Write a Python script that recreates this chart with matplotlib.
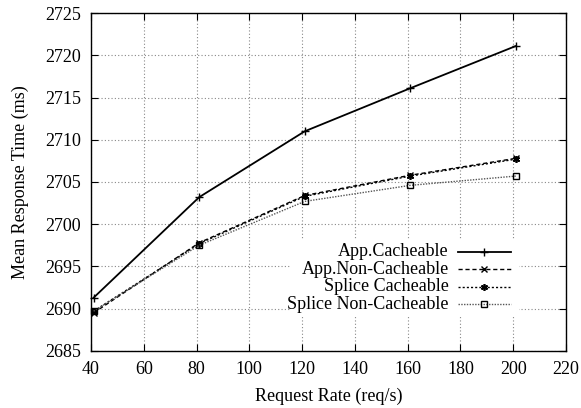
import matplotlib.pyplot as plt
from matplotlib.lines import Line2D
from matplotlib.patches import Rectangle

plt.rcParams['font.family'] = ['Liberation Serif', 'DejaVu Serif']

rate = [41, 81, 121, 161, 201]
app_cache = [2691.3, 2703.2, 2711.0, 2716.1, 2721.1]
app_noncache = [2689.5, 2697.8, 2703.4, 2705.8, 2707.8]
splice_cache = [2689.7, 2697.7, 2703.3, 2705.7, 2707.7]
splice_noncache = [2689.7, 2697.5, 2702.7, 2704.6, 2705.7]

labels = ['App.Cacheable', 'App.Non-Cacheable', 'Splice Cacheable', 'Splice Non-Cacheable']
series = [app_cache, app_noncache, splice_cache, splice_noncache]
styles = [
    dict(color='black', ls='-', lw=1.3, marker='+', ms=6, mew=1.0),
    dict(color='black', ls=(0, (3, 2)), lw=1.0, marker='x', ms=4.5, mew=1.0),
    dict(color='black', ls=(0, (1.5, 1.5)), lw=1.0, marker=(6, 2, 0), ms=5, mew=1.2),
    dict(color='#555555', ls=(0, (1, 1)), lw=1.0, marker='s', ms=4.5, mew=1.0,
         mfc='none', mec='black'),
]

fig = plt.figure(figsize=(5.81, 4.08), dpi=100)
ax = fig.add_axes([0.1566, 0.140, 0.8176, 0.828])

for vals, st in zip(series, styles):
    ax.plot(rate, vals, clip_on=False, zorder=3, **st)

ax.set_xlim(40, 220)
ax.set_ylim(2685, 2725)
ax.set_xticks(range(40, 221, 20))
ax.set_yticks(range(2685, 2726, 5))
ax.tick_params(direction='in', top=True, right=True, length=5, width=0.8,
               labelsize=13, pad=7)
ax.grid(True, color='#888888', ls=(0, (1, 2)), lw=0.8)
for sp in ax.spines.values():
    sp.set_linewidth(1.0)

ax.set_xlabel('Request Rate (req/s)', fontsize=13, labelpad=7)
ax.set_ylabel('Mean Response Time (ms)', fontsize=13, labelpad=12)

# opaque key box, right-aligned labels like gnuplot's key
ax.add_patch(Rectangle((0.42, 0.107), 0.48, 0.22, transform=ax.transAxes,
                       facecolor='white', edgecolor='none', zorder=2))
rows = [0.294, 0.242, 0.190, 0.138]
for lab, st, y in zip(labels, styles, rows):
    ax.text(0.753, y, lab, transform=ax.transAxes, ha='right', va='center',
            fontsize=13, zorder=4)
    ax.add_line(Line2D([0.772, 0.884], [y, y], transform=ax.transAxes,
                       color=st['color'], ls=st['ls'], lw=st['lw'], zorder=4))
    mk = {k: v for k, v in st.items() if k in ('marker', 'ms', 'mew', 'mfc', 'mec')}
    ax.add_line(Line2D([0.828], [y], transform=ax.transAxes, ls='none',
                       color=st['color'] if 'mec' not in st else 'black',
                       zorder=5, **mk))

fig.savefig('out.png', dpi=100)
